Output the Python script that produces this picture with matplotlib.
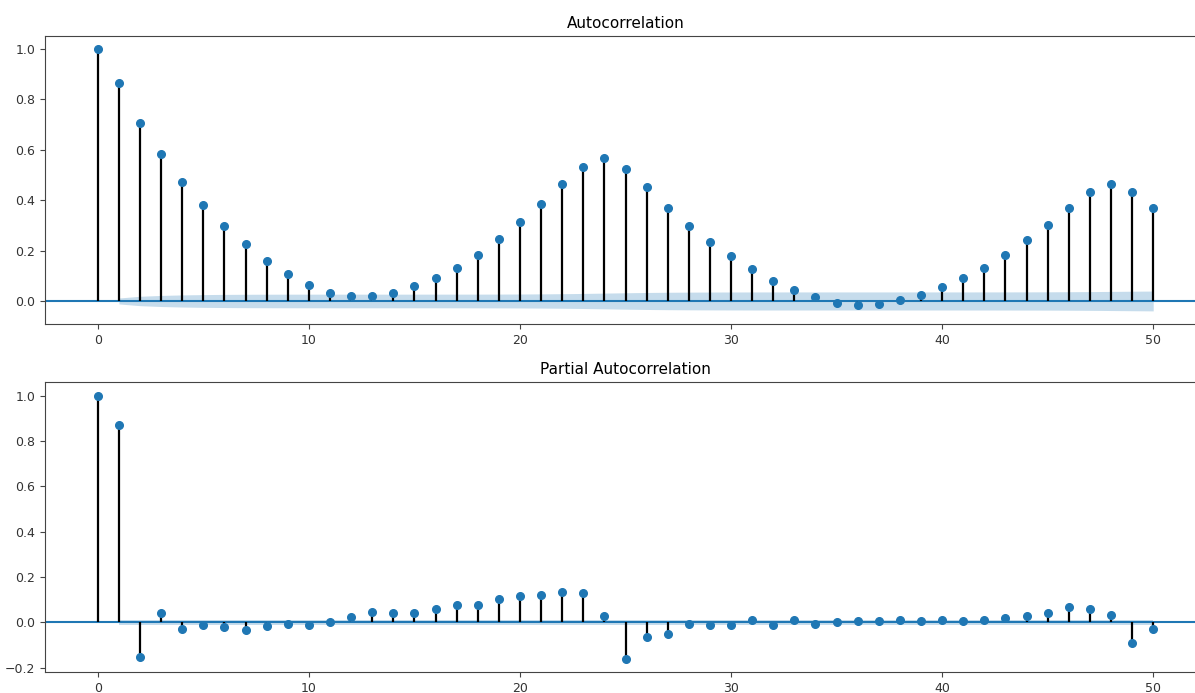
import numpy as np
import matplotlib
matplotlib.use("Agg")
import matplotlib.pyplot as plt

# values
lags = list(range(51))
acf_vals = [1.000, 0.865, 0.705, 0.582, 0.472, 0.380, 0.298, 0.225, 0.157, 0.106,
            0.065, 0.033, 0.019, 0.019, 0.033, 0.060, 0.091, 0.132, 0.184, 0.246,
            0.313, 0.385, 0.463, 0.530, 0.566, 0.524, 0.452, 0.369, 0.296, 0.235,
            0.179, 0.127, 0.081, 0.044, 0.015, -0.007, -0.017, -0.012, 0.004, 0.024,
            0.056, 0.091, 0.132, 0.184, 0.241, 0.303, 0.369, 0.431, 0.463, 0.431,
            0.369]
pacf_vals = [1.000, 0.868, -0.154, 0.041, -0.028, -0.010, -0.022, -0.034, -0.016, -0.006,
             -0.010, 0.002, 0.025, 0.047, 0.041, 0.041, 0.059, 0.076, 0.076, 0.104,
             0.116, 0.122, 0.134, 0.128, 0.028, -0.162, -0.063, -0.051, -0.006, -0.012,
             -0.012, 0.012, -0.012, 0.012, -0.006, 0.000, 0.006, 0.006, 0.012, 0.006,
             0.012, 0.006, 0.012, 0.018, 0.028, 0.040, 0.069, 0.057, 0.034, -0.093,
             -0.029]
n_obs = 27600  # estimated from the band width

acf = np.array(acf_vals)
pacf = np.array(pacf_vals)
x = np.array(lags)

# 95% bands like statsmodels: Bartlett for acf, 1/sqrt(n) for pacf
acf_var = np.ones(len(acf)) / n_obs
acf_var[0] = 0
acf_var[2:] *= 1 + 2 * np.cumsum(acf[1:-1] ** 2)
acf_band = 1.959964 * np.sqrt(acf_var)
pacf_band = np.full(len(pacf), 1.959964 / np.sqrt(n_obs))

plt.rcParams['font.family'] = 'DejaVu Sans'
plt.rcParams['xtick.labelsize'] = 9
plt.rcParams['ytick.labelsize'] = 9

fig = plt.figure(figsize=(11.95, 6.93), dpi=100)
ax1 = fig.add_axes([0.0377, 0.5325, 0.9715, 0.4155])
ax2 = fig.add_axes([0.0377, 0.0299, 0.9715, 0.4184])


def corr_plot(ax, vals, band, title):
    ax.vlines(x, [0], vals, colors='k', linewidth=1.6, zorder=2)
    ax.plot(x, vals, marker='o', markersize=5.5, linestyle='None', color='C0', zorder=3)
    ax.axhline(0, color='C0', linewidth=1.5, zorder=1)
    ax.fill_between(x[1:], -band[1:], band[1:], color='C0', alpha=0.25, linewidth=0)
    ax.margins(0.05)
    ax.set_title(title, fontsize=11)
    for s in ax.spines.values():
        s.set_color('#444444')
    ax.tick_params(color='#444444', labelcolor='#333333')


corr_plot(ax1, acf, acf_band, "Autocorrelation")
corr_plot(ax2, pacf, pacf_band, "Partial Autocorrelation")
ax1.set_yticks([0.0, 0.2, 0.4, 0.6, 0.8, 1.0])
ax2.set_yticks([-0.2, 0.0, 0.2, 0.4, 0.6, 0.8, 1.0])

fig.savefig("out.png", dpi=100)
